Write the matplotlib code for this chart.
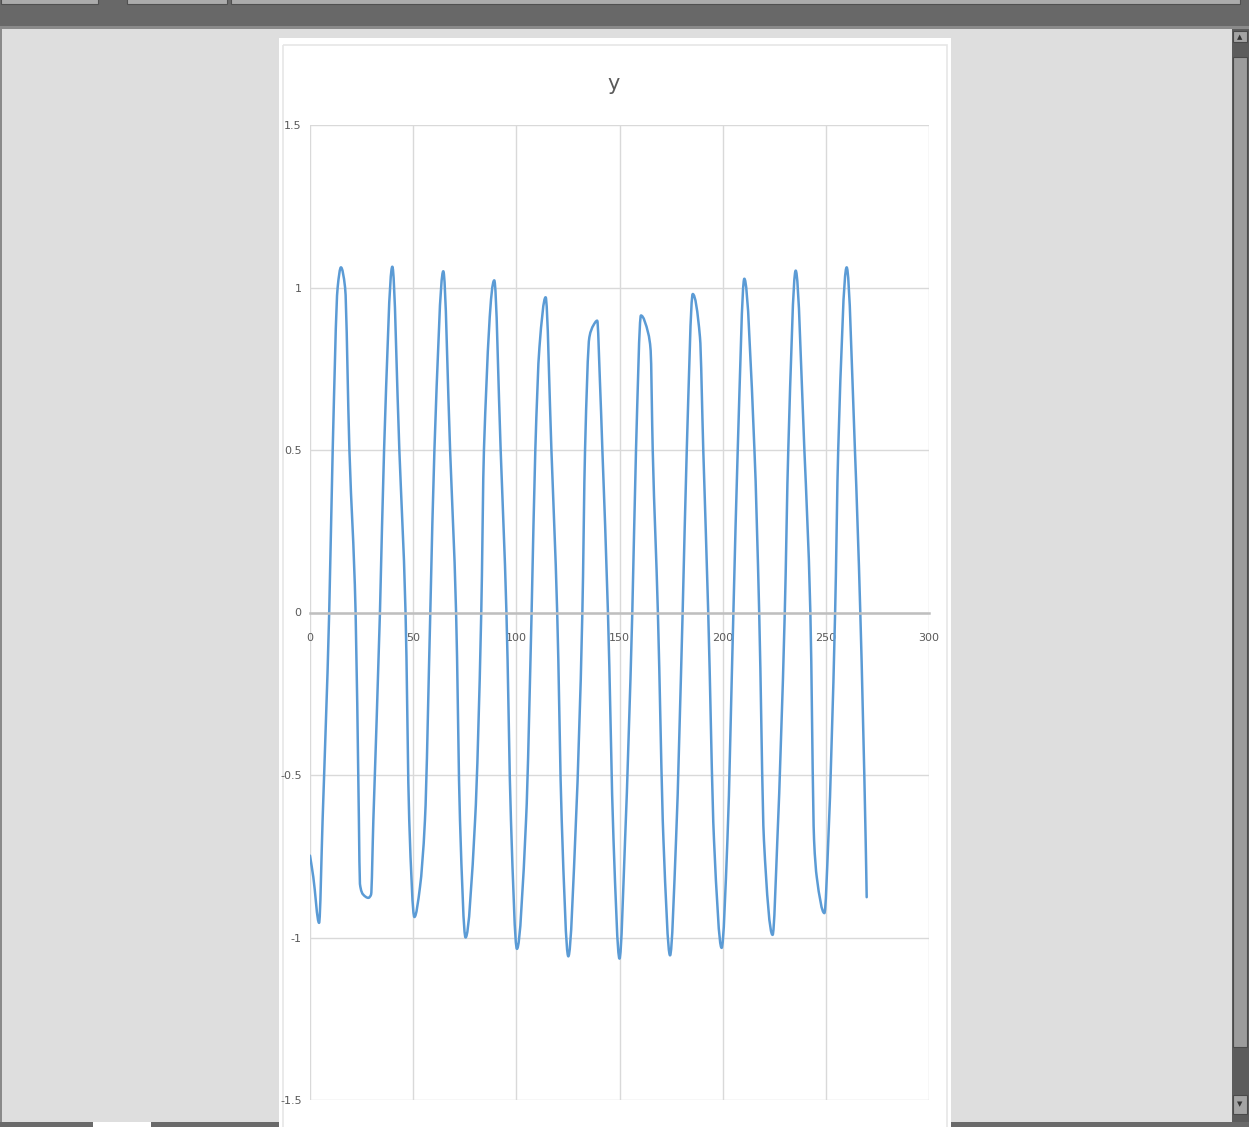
import numpy as np
import matplotlib.pyplot as plt
from matplotlib.path import Path
from matplotlib.patches import PathPatch, Rectangle

plt.rcParams['font.family'] = ['Liberation Sans Narrow', 'DejaVu Sans']

# data (x, y)
x_vals = [0, 1.6, 4.4, 6.1, 9.3, 11.0, 13.4, 15.0, 17.0, 19.1, 22.1, 23.7, 24.2, 25.8,
          28.3, 29.6, 30.7, 33.9, 35.9, 39.9, 43.3, 46.3, 48.1, 50.6, 53.3, 55.7, 58.3,
          60.3, 64.6, 67.9, 70.8, 72.7, 75.4, 80.0, 83.0, 84.3, 89.3, 92.4, 95.2, 97.4,
          100.3, 104.7, 107.4, 109.2, 111.2, 114.2, 117.0, 119.8, 122.0, 125.2, 128.9,
          132.0, 133.3, 135.4, 137.3, 139.2, 140.5, 141.7, 144.4, 147.1, 150.0, 152.7,
          156.2, 158.0, 160.4, 164.0, 165.1, 166.1, 168.6, 171.3, 174.5, 177.4, 180.6,
          182.6, 185.5, 189.0, 190.6, 193.0, 195.8, 199.5, 202.3, 205.2, 207.3, 210.5,
          215.4, 217.7, 220.0, 224.2, 226.5, 230.1, 231.8, 235.4, 239.6, 242.5, 244.3,
          245.6, 249.3, 251.2, 254.5, 256.0, 260.1, 264.1, 266.7, 269.3, 269.8]
y_vals = [-0.748, -0.814, -0.955, -0.64, 0, 0.5, 1.0, 1.062, 1.0, 0.5, 0, -0.64, -0.835, -0.868,
          -0.878, -0.868, -0.64, 0, 0.5, 1.064, 0.5, 0, -0.64, -0.937, -0.845, -0.64, 0,
          0.5, 1.050, 0.5, 0, -0.64, -1.0, -0.64, 0, 0.5, 1.022, 0.5, 0, -0.64,
          -1.035, -0.64, 0, 0.5, 0.816, 0.970, 0.5, 0, -0.64, -1.058, -0.64,
          0, 0.5, 0.847, 0.883, 0.898, 0.714, 0.5, 0, -0.70, -1.065, -0.70,
          0, 0.5, 0.914, 0.857, 0.806, 0.5, 0, -0.70, -1.055, -0.70, 0,
          0.5, 0.980, 0.847, 0.5, 0, -0.70, -1.032, -0.70, 0, 0.5, 1.027,
          0.5, 0, -0.70, -0.992, -0.70, 0, 0.5, 1.052, 0.5, 0, -0.70,
          -0.814, -0.925, -0.70, 0, 0.5, 1.062, 0.5, 0, -0.70, -0.876]

x_ticks = [0, 50, 100, 150, 200, 250, 300]
y_ticks = [-1.5, -1, -0.5, 0, 0.5, 1, 1.5]
y_tick_labels = ['-1.5', '-1', '-0.5', '0', '0.5', '1', '1.5']
chart_title = 'y'

W, H = 1249, 1127
fig = plt.figure(figsize=(W / 100, H / 100), dpi=100)
fig.patch.set_facecolor('#dedede')

# window chrome, drawn in pixel coordinates
bg = fig.add_axes([0, 0, 1, 1], zorder=-1)
bg.set_xlim(0, W)
bg.set_ylim(H, 0)
bg.axis('off')


def box(x0, y0, x1, y1, fc, ec='none', lw=0):
    bg.add_patch(Rectangle((x0, y0), x1 - x0, y1 - y0, facecolor=fc, edgecolor=ec, linewidth=lw))


box(0, 0, W, 27, '#686868')
box(1, -2, 98, 4, '#ababab', '#505050', 0.8)
box(127, -2, 227, 4, '#ababab', '#505050', 0.8)
box(231, -2, 1240, 4, '#ababab', '#505050', 0.8)
box(0, 26, W, 29, '#8a8a8a')
box(0, 29, 2, H, '#8a8a8a')
box(0, 1122, W, H, '#6a6a6a')
box(93, 1122, 151, H, 'white')
# scrollbar
box(1232, 29, W, 1122, '#5c5c5c')
box(1233.5, 31, 1247, 42, '#a4a4a4', '#4a4a4a', 0.8)
box(1233.5, 57, 1247, 1047, '#9c9c9c', '#4a4a4a', 0.8)
box(1233.5, 1095, 1247, 1114, '#a4a4a4', '#4a4a4a', 0.8)
bg.text(1240, 37, '▲', fontsize=5, ha='center', va='center', color='#333333', family='DejaVu Sans')
bg.text(1240, 1104, '▼', fontsize=5, ha='center', va='center', color='#333333', family='DejaVu Sans')
# chart page
box(279, 38, 951, H, 'white')
box(283, 45, 947, H + 5, 'none', '#e6e6e6', 1.2)

# chart
ax = fig.add_axes([310 / W, 27 / H, 619 / W, 975 / H])
ax.set_facecolor('none')
ax.set_xlim(0, 300)
ax.set_ylim(-1.5, 1.5)
ax.set_xticks(x_ticks)
ax.set_yticks(y_ticks)
ax.set_yticklabels(y_tick_labels)
ax.grid(True, color='#d9d9d9', linewidth=1)
ax.set_axisbelow(True)
for s in ['top', 'right', 'left']:
    ax.spines[s].set_visible(False)
ax.spines['bottom'].set_position(('data', 0))
ax.spines['bottom'].set_color('#bfbfbf')
ax.spines['bottom'].set_linewidth(1.8)
ax.tick_params(axis='x', length=0, labelsize=8, colors='#595959', pad=15)
ax.tick_params(axis='y', length=0, labelsize=8, colors='#595959', pad=6)

# smoothed line: bezier segments through the data points (monotone tangents)
xs = np.asarray(x_vals, float)
ys = np.asarray(y_vals, float)
h = np.diff(xs)
d = np.diff(ys) / h
m = np.zeros_like(ys)
m[0], m[-1] = d[0], d[-1]
for i in range(1, len(xs) - 1):
    if d[i - 1] * d[i] > 0:
        w1 = 2 * h[i] + h[i - 1]
        w2 = h[i] + 2 * h[i - 1]
        m[i] = (w1 + w2) / (w1 / d[i - 1] + w2 / d[i])
verts = [(xs[0], ys[0])]
codes = [Path.MOVETO]
for i in range(len(xs) - 1):
    t = h[i] / 3
    verts += [(xs[i] + t, ys[i] + m[i] * t), (xs[i + 1] - t, ys[i + 1] - m[i + 1] * t), (xs[i + 1], ys[i + 1])]
    codes += [Path.CURVE4] * 3
ax.add_patch(PathPatch(Path(verts, codes), facecolor='none', edgecolor='#5b9bd5',
                       linewidth=1.8, capstyle='round', joinstyle='round'))

fig.text(614 / W, 1 - 84 / H, chart_title, fontsize=15, color='#595959', ha='center', va='center')

fig.savefig('out.png', dpi=100, facecolor=fig.get_facecolor())
